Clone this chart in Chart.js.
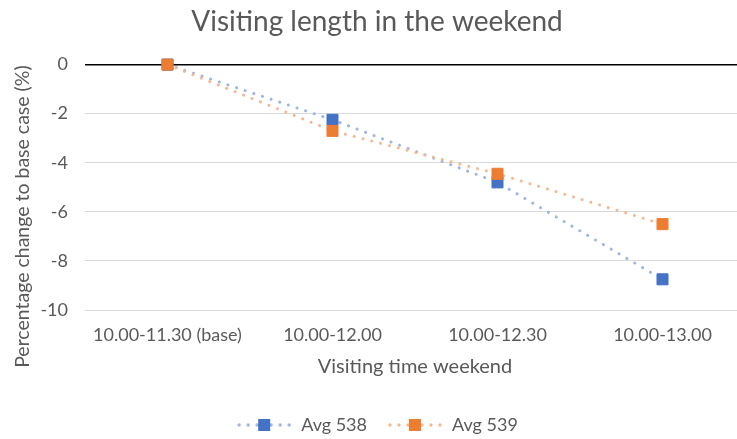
<!DOCTYPE html>
<html>
<head>
<meta charset="utf-8">
<script src="https://cdn.jsdelivr.net/npm/chart.js@4.4.1/dist/chart.umd.min.js"></script>
<style>
  html, body { margin: 0; padding: 0; background: #fff; overflow: hidden; }
  #wrap { width: 754px; height: 439px; }
</style>
</head>
<body>
<div id="wrap"><canvas id="c" width="754" height="439"></canvas></div>
<script>
// Visiting-time windows on the weekend
const categories = ['10.00-11.30 (base)', '10.00-12.00', '10.00-12.30', '10.00-13.00'];
// Percentage change relative to the base case
const avg538 = [0, -2.25, -4.8, -8.75];
const avg539 = [0, -2.7, -4.45, -6.5];
const yTicks = [0, -2, -4, -6, -8, -10];

const FONT = 'Lato, "Open Sans", sans-serif';
const GREY = '#595959';
const Y_TITLE = 'Percentage change to base case (%)';

// Legend symbol: a short dotted line with a square marker in the middle
function legendSymbol(lineColor, markColor) {
  const cv = document.createElement('canvas');
  cv.width = 56; cv.height = 14;
  const g = cv.getContext('2d');
  g.fillStyle = lineColor;
  [3, 12, 21, 35, 44, 53].forEach(x => {
    g.beginPath(); g.arc(x, 7, 1.7, 0, Math.PI * 2); g.fill();
  });
  g.fillStyle = markColor;
  g.fillRect(22, 1, 12, 12);
  return cv;
}

// Vertical axis title, set a little below the middle of the plot
const yTitlePlugin = {
  id: 'yTitle',
  afterDraw(chart) {
    const { ctx, chartArea } = chart;
    ctx.save();
    ctx.translate(23, chartArea.top + 152);
    ctx.rotate(-Math.PI / 2);
    ctx.font = '19.5px ' + FONT;
    ctx.fillStyle = GREY;
    ctx.textAlign = 'center';
    ctx.textBaseline = 'middle';
    ctx.fillText(Y_TITLE, 0, 0);
    ctx.restore();
  }
};

const series = [
  { label: 'Avg 538', data: avg538, line: '#9DB5E3', mark: '#4472C4', order: 1 },
  { label: 'Avg 539', data: avg539, line: '#F5B890', mark: '#ED7D31', order: 0 }
];

new Chart(document.getElementById('c'), {
  type: 'line',
  plugins: [yTitlePlugin],
  data: {
    labels: categories,
    datasets: series.map(s => ({
      label: s.label,
      data: s.data,
      order: s.order,
      clip: false,
      borderColor: s.line,
      borderWidth: 3,
      borderDash: [0.1, 9],
      borderCapStyle: 'round',
      tension: 0,
      pointStyle: 'rect',
      pointRadius: 7.8,
      pointHoverRadius: 7.8,
      pointBackgroundColor: s.mark,
      pointBorderColor: s.mark,
      pointBorderWidth: 1,
      fill: false,
      legendImage: legendSymbol(s.line, s.mark)
    }))
  },
  options: {
    responsive: false,
    animation: false,
    layout: { padding: { left: 0, right: 0, top: 0, bottom: -5 } },
    plugins: {
      title: {
        display: true,
        text: 'Visiting length in the weekend',
        color: GREY,
        font: { family: FONT, size: 28, weight: 'normal' },
        padding: { top: 5, bottom: 26 }
      },
      legend: {
        position: 'bottom',
        labels: {
          color: GREY,
          font: { family: FONT, size: 18 },
          usePointStyle: true,
          pointStyleWidth: 56,
          padding: 20,
          generateLabels(chart) {
            return chart.data.datasets.map((ds, i) => ({
              text: ds.label,
              datasetIndex: i,
              pointStyle: ds.legendImage,
              fillStyle: ds.pointBackgroundColor,
              strokeStyle: ds.pointBackgroundColor,
              lineWidth: 0,
              fontColor: GREY,
              hidden: false
            }));
          }
        }
      },
      tooltip: { enabled: false }
    },
    scales: {
      x: {
        offset: true,
        afterFit(scale) { scale.height = 86; },
        grid: { display: false, drawTicks: false },
        border: { display: false },
        ticks: { color: GREY, font: { family: FONT, size: 18 }, padding: 14, maxRotation: 0 },
        title: {
          display: true,
          text: 'Visiting time weekend',
          color: GREY,
          font: { family: FONT, size: 20 },
          padding: { top: 0, bottom: 17 }
        }
      },
      y: {
        min: -10,
        max: 0,
        afterBuildTicks(scale) { scale.ticks = yTicks.map(v => ({ value: v })); },
        afterFit(scale) { scale.width = 85; },
        grid: {
          color: ctx => (ctx.tick && ctx.tick.value === 0 ? '#000000' : '#D9D9D9'),
          lineWidth: ctx => (ctx.tick && ctx.tick.value === 0 ? 1.5 : 1),
          drawTicks: false
        },
        border: { display: false },
        ticks: { color: GREY, font: { family: FONT, size: 18 }, padding: 17 }
      },
      // empty strip on the right edge of the plot
      edge: {
        type: 'linear',
        position: 'right',
        display: true,
        afterFit(scale) { scale.width = 9; },
        grid: { display: false, drawTicks: false },
        border: { display: false },
        ticks: { display: false }
      }
    }
  }
});
</script>
</body>
</html>
